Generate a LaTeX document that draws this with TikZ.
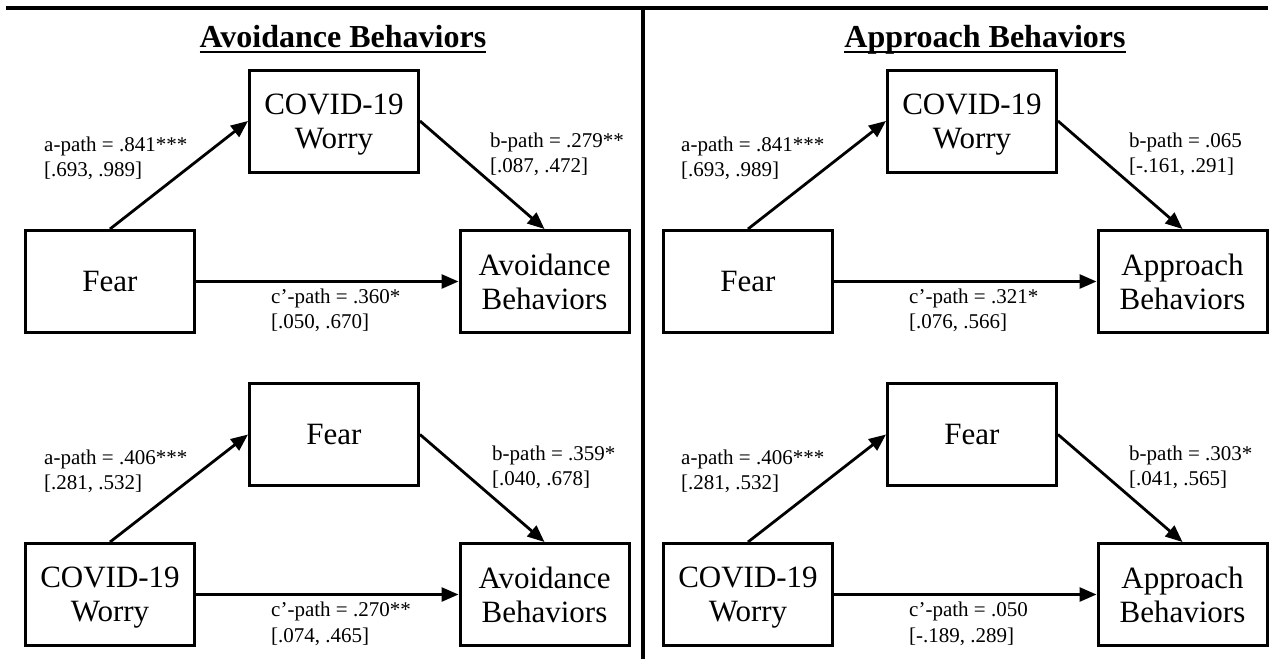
\documentclass[tikz,border=0pt]{standalone}
\usepackage{fontspec}
\setmainfont{Liberation Serif}
\usetikzlibrary{arrows.meta}
\begin{document}
\begin{tikzpicture}[x=1pt,y=-1pt,
  box/.style={draw, line width=3pt, minimum width=169pt, minimum height=102pt, align=center, inner sep=0pt, text depth=0pt, font=\fontsize{31}{34}\selectfont},
  lab/.style={anchor=base west, align=left, inner sep=0pt, font=\fontsize{21}{25.5}\selectfont},
  arr/.style={line width=2.8pt, -{Triangle[length=17pt,width=14pt]}},
  ttl/.style={anchor=base, inner sep=0pt, font=\fontsize{32}{36}\selectfont\bfseries},
  rule/.style={line width=2pt}]
\useasboundingbox (0,0) rectangle (1269,659);
% frame lines
\coordinate (tl) at (6,8);
\coordinate (tr) at (1268,8);
\coordinate (dt) at (643,8);
\coordinate (db) at (643,659);
\draw[line width=4pt] (tl) -- (tr);
\draw[line width=3.5pt] (dt) -- (db);
% titles
\node[ttl] (t1) at (343,47) {Avoidance Behaviors};
\node[ttl] (t2) at (985,47) {Approach Behaviors};
\draw[rule] ([yshift=-5pt]t1.base west) -- ([yshift=-5pt]t1.base east);
\draw[rule] ([yshift=-5pt]t2.base west) -- ([yshift=-5pt]t2.base east);
% ---- left top
\node[box] (W1) at (334,121) {COVID-19\\Worry};
\node[box] (F1) at (110,281.5) {Fear};
\node[box] (A1) at (544.5,281.5) {Avoidance\\Behaviors};
\draw[arr] (F1.north) -- (W1.west);
\draw[arr] (W1.east) -- (A1.north);
\draw[arr] (F1.east) -- (A1.west);
\node[lab] (a1) at (44,176.5) {a-path = .841***\\{}[.693, .989]};
\node[lab] (b1) at (490,172.5) {b-path = .279**\\{}[.087, .472]};
\node[lab] (c1) at (271,328.5) {c’-path = .360*\\{}[.050, .670]};
% ---- left bottom
\node[box] (F2) at (334,434.5) {Fear};
\node[box] (W2) at (110,594.5) {COVID-19\\Worry};
\node[box] (A2) at (544.5,594.5) {Avoidance\\Behaviors};
\draw[arr] (W2.north) -- (F2.west);
\draw[arr] (F2.east) -- (A2.north);
\draw[arr] (W2.east) -- (A2.west);
\node[lab] (a2) at (44,489.5) {a-path = .406***\\{}[.281, .532]};
\node[lab] (b2) at (492,485.5) {b-path = .359*\\{}[.040, .678]};
\node[lab] (c2) at (271,642) {c’-path = .270**\\{}[.074, .465]};
% ---- right top
\node[box] (W3) at (972,121) {COVID-19\\Worry};
\node[box] (F3) at (748,281.5) {Fear};
\node[box] (P3) at (1182.5,281.5) {Approach\\Behaviors};
\draw[arr] (F3.north) -- (W3.west);
\draw[arr] (W3.east) -- (P3.north);
\draw[arr] (F3.east) -- (P3.west);
\node[lab] (a3) at (681,176.5) {a-path = .841***\\{}[.693, .989]};
\node[lab] (b3) at (1129,172.5) {b-path = .065\\{}[-.161, .291]};
\node[lab] (c3) at (909,328.5) {c’-path = .321*\\{}[.076, .566]};
% ---- right bottom
\node[box] (F4) at (972,434.5) {Fear};
\node[box] (W4) at (748,594.5) {COVID-19\\Worry};
\node[box] (P4) at (1182.5,594.5) {Approach\\Behaviors};
\draw[arr] (W4.north) -- (F4.west);
\draw[arr] (F4.east) -- (P4.north);
\draw[arr] (W4.east) -- (P4.west);
\node[lab] (a4) at (681,489.5) {a-path = .406***\\{}[.281, .532]};
\node[lab] (b4) at (1129,485.5) {b-path = .303*\\{}[.041, .565]};
\node[lab] (c4) at (909,642) {c’-path = .050\\{}[-.189, .289]};
\end{tikzpicture}
\end{document}
